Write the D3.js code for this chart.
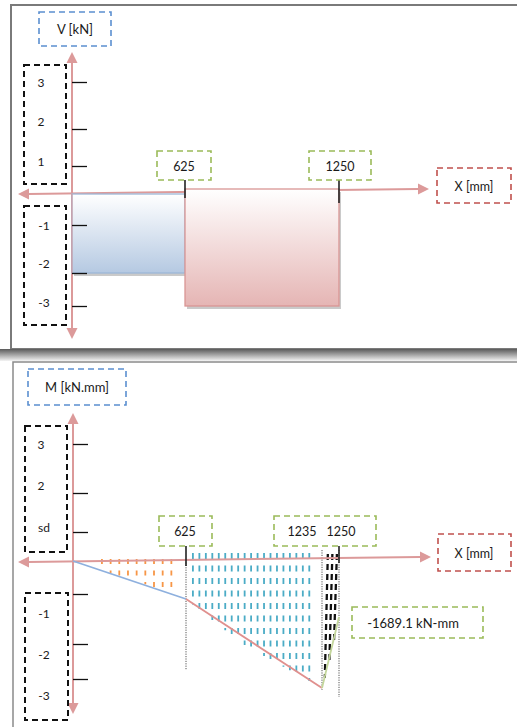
<!DOCTYPE html>
<html><head><meta charset="utf-8">
<script src="https://cdn.jsdelivr.net/npm/d3@7"></script>
<style>html,body{margin:0;padding:0;background:#fff;overflow:hidden}svg{display:block}</style>
</head><body>
<svg id="c" width="517" height="727"></svg>
<script>
// ---------- data ----------
const tickValues = [3, 2, 1, -1, -2, -3];
const vTickLabels = ["3", "2", "1", "-1", "-2", "-3"];
const mTickLabels = ["3", "2", "sd", "-1", "-2", "-3"];
const vXLabels = ["625", "1250"];
const vXValues = [625, 1250];
const shearStart = [0, 625];
const shearEnd = [625, 1250];
const shearValues = [-2, -3];
const mXValues = [0, 625, 1235, 1250];
const mValues = [0, -1.1, -3.26, -1.46];
const mXLabels = ["625", "1235", "1250"];
const maxMomentLabel = "-1689.1 kN-mm";

const svg = d3.select("#c");
const FONT = "Lato, 'Open Sans', sans-serif";
const AX = "#dc9a9a";
const defs = svg.append("defs");
function grad(id, c0, c1) {
  const g = defs.append("linearGradient").attr("id", id).attr("x1", 0).attr("y1", 0).attr("x2", 0).attr("y2", 1);
  g.append("stop").attr("offset", "0%").attr("stop-color", c0);
  g.append("stop").attr("offset", "100%").attr("stop-color", c1);
}
grad("gBlue", "#ffffff", "#b5c9e2");
grad("gPink", "#ffffff", "#e5b5b4");
grad("gShadow", "#5a5a5a", "#f4f4f4");

// ---------- panel frames ----------
svg.append("rect").attr("x", 11).attr("y", 5).attr("width", 530).attr("height", 344)
  .attr("fill", "none").attr("stroke", "#7a7a7a").attr("stroke-width", 2);
svg.append("rect").attr("x", 0).attr("y", 349).attr("width", 517).attr("height", 12).attr("fill", "url(#gShadow)");
svg.append("rect").attr("x", 13).attr("y", 362).attr("width", 530).attr("height", 400)
  .attr("fill", "#fff").attr("stroke", "#8a8a8a").attr("stroke-width", 1.5);

function dashBox(x, y, w, h, color, sw) {
  svg.append("rect").attr("x", x).attr("y", y).attr("width", w).attr("height", h)
    .attr("fill", "none").attr("stroke", color).attr("stroke-width", sw || 1.6)
    .attr("stroke-dasharray", "6,4");
}
function txt(x, y, s, size, anchor) {
  svg.append("text").attr("x", x).attr("y", y).attr("text-anchor", anchor || "middle")
    .attr("dominant-baseline", "central").attr("font-family", FONT)
    .attr("font-size", size || 12).attr("fill", "#1a1a1a").text(s);
}
function arrowHead(x, y, dir) {
  const L = 11, W = 5.5;
  let p;
  if (dir === "up") p = [[x, y], [x - W, y + L], [x + W, y + L]];
  if (dir === "down") p = [[x, y], [x - W, y - L], [x + W, y - L]];
  if (dir === "left") p = [[x, y], [x + L, y - W], [x + L, y + W]];
  if (dir === "right") p = [[x, y], [x - L, y - W], [x - L, y + W]];
  svg.append("path").attr("d", "M" + p.join("L") + "Z").attr("fill", AX);
}

// ================= SHEAR PANEL =================
const xV = d3.scaleLinear().domain([0, 625, 1250]).range([72, 185, 339]);
const yV = d3.scaleLinear().domain([-3, -2, -1, 0, 1, 2, 3]).range([306, 273, 225, 192, 166, 129, 82]);

// axes (behind the bars)
svg.append("line").attr("x1", 72).attr("y1", 62).attr("x2", 72).attr("y2", 328).attr("stroke", AX).attr("stroke-width", 2);
arrowHead(72, 52, "up"); arrowHead(72, 339, "down");
svg.append("line").attr("x1", 28).attr("y1", yV(0) + 2).attr("x2", 418).attr("y2", yV(0) - 3).attr("stroke", AX).attr("stroke-width", 2);
arrowHead(18, yV(0) + 2, "left"); arrowHead(429, yV(0) - 3, "right");

const shear = shearValues.map((v, i) => ({ x0: shearStart[i], x1: shearEnd[i], v }));
const fills = ["url(#gBlue)", "url(#gPink)"];
const strokes = ["#9db7d8", "#d99694"];
const tops = [yV(0) + 2, yV(0) - 3];
shear.forEach((d, i) => {
  const x = xV(d.x0), w = xV(d.x1) - xV(d.x0), y = tops[i], h = yV(d.v) - y;
  svg.append("rect").attr("x", x + 2).attr("y", y + 3).attr("width", w).attr("height", h)
    .attr("fill", "#8a8a8a").attr("opacity", 0.45);
  svg.append("rect").attr("x", x).attr("y", y).attr("width", w).attr("height", h)
    .attr("fill", fills[i]).attr("stroke", strokes[i]).attr("stroke-width", 1.3);
});
// left vertical axis stays visible over the blue bar edge
svg.append("line").attr("x1", 72).attr("y1", tops[0]).attr("x2", 72).attr("y2", yV(-2)).attr("stroke", AX).attr("stroke-width", 1.5).attr("opacity", 0.6);

const vAxis = svg.append("g").attr("transform", "translate(72,0)")
  .call(d3.axisRight(yV).tickValues(tickValues).tickSize(15).tickFormat(""));
vAxis.select(".domain").remove();
vAxis.selectAll(".tick line").attr("stroke", "#111").attr("stroke-width", 1.3);

vXValues.forEach((v, i) => {
  svg.append("line").attr("x1", xV(v)).attr("x2", xV(v)).attr("y1", 180).attr("y2", i ? 203 : 198)
    .attr("stroke", "#222").attr("stroke-width", 1.6);
});

dashBox(39, 12, 72, 34, "#5b8fd0");
txt(75, 29, "V [kN]", 13);
dashBox(24, 65, 42, 119, "#111", 2);
dashBox(24, 206, 42, 119, "#111", 2);
vTickLabels.slice(0, 3).forEach((s, i) => txt(41, 82 + i * 39.5, s, 12));
vTickLabels.slice(3).forEach((s, i) => txt(44, 225 + i * 38.5, s, 12));
dashBox(157, 151, 54, 29, "#9bbb59");
dashBox(309, 151, 62, 29, "#9bbb59");
txt(184, 166, vXLabels[0], 12.5);
txt(340, 166, vXLabels[1], 12.5);
dashBox(437, 168, 74, 35, "#c0504d");
txt(474, 186, "X [mm]", 12.5);

// ================= MOMENT PANEL =================
const xM = d3.scaleLinear().domain(mXValues).range([73, 186, 322, 339]);
const yM = d3.scaleLinear().domain([-3, -2, -1, 0, 1, 2, 3]).range([679, 644, 594, 561, 532, 493, 444]);
const mAt = d3.scaleLinear().domain(mXValues).range(mValues);

function hatch(cols, color, dash, sw, topOff, slant) {
  cols.forEach(c => {
    svg.append("line").attr("x1", xM(c) + (slant || 0)).attr("x2", xM(c))
      .attr("y1", yM(0) - topOff).attr("y2", yM(mAt(c)))
      .attr("stroke", color).attr("stroke-width", sw).attr("stroke-dasharray", dash);
  });
}
hatch(d3.range(160, 560, 48), "#f79646", "5,6.5", 1.8, 2);
hatch(d3.range(656, 1180, 29), "#4bacc6", "6,6.5", 1.8, 8);

[[625, 670], [1235, 690], [1250, 697]].forEach(([v, y2], i) => {
  svg.append("line").attr("x1", xM(v)).attr("x2", xM(v)).attr("y1", i ? 550 : 560).attr("y2", y2)
    .attr("stroke", "#555").attr("stroke-width", 1).attr("stroke-dasharray", "1.2,1.2");
});
hatch([1237.5, 1241.5, 1245.5], "#111", "6,4", 2.3, 7, 3);

svg.append("line").attr("x1", 73).attr("y1", 423).attr("x2", 73).attr("y2", 703).attr("stroke", AX).attr("stroke-width", 2);
arrowHead(73, 413, "up"); arrowHead(73, 714, "down");
svg.append("line").attr("x1", 28).attr("y1", yM(0) + 1).attr("x2", 420).attr("y2", yM(0) - 4).attr("stroke", AX).attr("stroke-width", 2);
arrowHead(18, yM(0) + 1, "left"); arrowHead(431, yM(0) - 4, "right");

const mAxis = svg.append("g").attr("transform", "translate(73,0)")
  .call(d3.axisRight(yM).tickValues(tickValues).tickSize(15).tickFormat(""));
mAxis.select(".domain").remove();
mAxis.selectAll(".tick line").attr("stroke", "#111").attr("stroke-width", 1.3);

const mPts = mXValues.map((x, i) => ({ x, m: mValues[i] }));
const segColors = ["#8eb0de", "#e0908e", "#c3d69b"];
const line = d3.line().x(d => xM(d.x)).y(d => yM(d.m));
for (let i = 0; i < mPts.length - 1; i++) {
  svg.append("path").attr("d", line([mPts[i], mPts[i + 1]])).attr("fill", "none")
    .attr("stroke", segColors[i]).attr("stroke-width", 1.8);
}

[625, 1250].forEach(v => {
  svg.append("line").attr("x1", xM(v)).attr("x2", xM(v)).attr("y1", 546).attr("y2", v === 625 ? 566 : 563)
    .attr("stroke", "#222").attr("stroke-width", 1.6);
});

dashBox(28, 369, 98, 36, "#5b8fd0");
txt(77, 387, "M [kN.mm]", 13);
dashBox(25, 426, 42, 126, "#111", 2);
dashBox(25, 593, 43, 127, "#111", 2);
mTickLabels.slice(0, 3).forEach((s, i) => txt(i === 2 ? 44 : 41, 444 + i * 41.5, s, 12));
mTickLabels.slice(3).forEach((s, i) => txt(44, 613 + i * 41, s, 12));
dashBox(159, 516, 53, 30, "#9bbb59");
txt(185, 531, mXLabels[0], 12.5);
dashBox(274, 516, 102, 30, "#9bbb59");
txt(302, 531, mXLabels[1], 12.5);
txt(341, 531, mXLabels[2], 12.5);
dashBox(438, 534, 73, 37, "#c0504d");
txt(474, 553, "X [mm]", 12.5);
dashBox(352, 607, 131, 31, "#9bbb59");
txt(413, 623, maxMomentLabel, 13);
</script>
</body></html>
